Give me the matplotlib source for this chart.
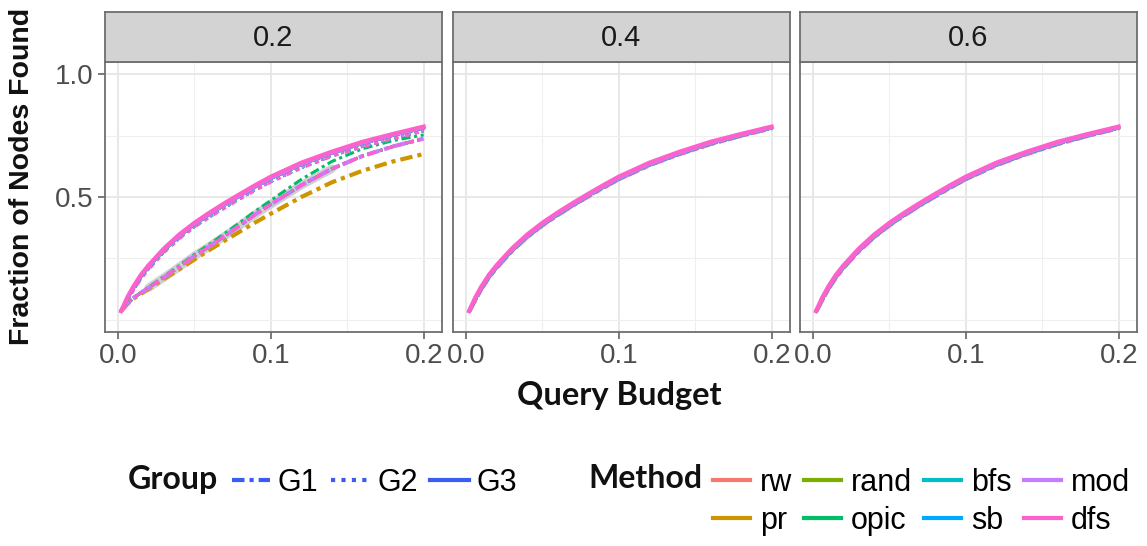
import numpy as np
import matplotlib.pyplot as plt
from matplotlib.lines import Line2D

plt.rcParams['font.family'] = ['Liberation Sans', 'DejaVu Sans']

# data
panels = ['0.2', '0.4', '0.6']
methods = ['rw', 'pr', 'rand', 'opic', 'bfs', 'sb', 'mod', 'dfs']
method_colors = ['#F8766D', '#CD9600', '#7CAE00', '#00BE67',
                 '#00BFC4', '#00A9FF', '#C77CFF', '#FF61CC']
groups = ['G1', 'G2', 'G3']

budget = [0.002, 0.006, 0.01, 0.015, 0.02, 0.03, 0.04, 0.05, 0.06, 0.07,
          0.08, 0.09, 0.10, 0.12, 0.14, 0.16, 0.18, 0.20]

# G3 (solid) curve, dfs on top
found_top = [0.035, 0.09, 0.135, 0.183, 0.222, 0.29, 0.347, 0.395, 0.437, 0.476,
             0.513, 0.549, 0.583, 0.64, 0.685, 0.725, 0.757, 0.787]
# the other methods sit just under it
found_top_other = [0.035, 0.083, 0.127, 0.175, 0.214, 0.282, 0.339, 0.387, 0.429, 0.468,
                   0.505, 0.541, 0.575, 0.632, 0.678, 0.718, 0.751, 0.781]
# G2 (dotted) in panel 0.2
found_p02_g2 = [0.035, 0.08, 0.122, 0.17, 0.208, 0.276, 0.332, 0.38, 0.42, 0.458,
                0.495, 0.53, 0.563, 0.62, 0.668, 0.706, 0.74, 0.77]
# G1 (dot-dash) in panel 0.2
found_p02_g1 = [0.035, 0.065, 0.088, 0.11, 0.13, 0.172, 0.215, 0.26, 0.30, 0.342,
                0.385, 0.43, 0.47, 0.548, 0.615, 0.667, 0.706, 0.738]
found_p02_g1_opic = [0.035, 0.065, 0.088, 0.11, 0.132, 0.176, 0.22, 0.266, 0.308, 0.352,
                     0.397, 0.443, 0.486, 0.572, 0.645, 0.697, 0.73, 0.753]
found_p02_g1_pr = [0.035, 0.063, 0.085, 0.105, 0.125, 0.166, 0.205, 0.245, 0.285, 0.323,
                   0.36, 0.397, 0.432, 0.50, 0.56, 0.607, 0.645, 0.675]
# G1/G2 in panels 0.4 and 0.6
found_p04_low = [0.033, 0.08, 0.125, 0.173, 0.212, 0.28, 0.337, 0.385, 0.427, 0.466,
                 0.503, 0.539, 0.573, 0.63, 0.676, 0.716, 0.75, 0.781]

group_styles = {'G1': (0, (3, 1.2, 1, 1.2)), 'G2': (0, (1, 1.5)), 'G3': '-'}


def series_for(panel, group, method):
    if group == 'G3':
        return found_top if method == 'dfs' else found_top_other
    if panel == '0.2':
        if group == 'G2':
            return found_p02_g2
        if method == 'opic':
            return found_p02_g1_opic
        if method == 'pr':
            return found_p02_g1_pr
        return found_p02_g1
    return found_p04_low


W, H = 1147, 546
fig = plt.figure(figsize=(W / 100, H / 100), dpi=100)

lefts = [105, 453, 800]
pw = 337
top, bot = 62, 332
draw_order = ['rw', 'rand', 'bfs', 'sb', 'dfs', 'pr', 'opic', 'mod']

for i, panel in enumerate(panels):
    ax = fig.add_axes([lefts[i] / W, 1 - bot / H, pw / W, (bot - top) / H])
    sax = fig.add_axes([lefts[i] / W, 1 - top / H, pw / W, 50 / H])

    # grey band under the low curves in panel 0.2
    if panel == '0.2':
        ax.plot(budget[4:15], found_p02_g1[4:15], color='#c8c8c8', lw=6,
                alpha=0.85, solid_capstyle='round', zorder=1)

    for g, z in [('G1', 2), ('G2', 3), ('G3', 4)]:
        order = draw_order if g == 'G1' else methods
        for m in order:
            c = method_colors[methods.index(m)]
            if g == 'G1':
                w = 3.0 if m in ('mod', 'pr') else 2.2
            else:
                w = 3.0 if m == 'dfs' else 2.0
            ax.plot(budget, series_for(panel, g, m), color=c, lw=w,
                    linestyle=group_styles[g], zorder=z + (0.5 if m == 'dfs' else 0))

    ax.set_xlim(-0.0085, 0.212)
    ax.set_ylim(-0.05, 1.05)
    ax.set_xticks([0.0, 0.1, 0.2])
    ax.set_xticklabels(['0.0', '0.1', '0.2'])
    ax.set_xticks([0.05, 0.15], minor=True)
    ax.set_yticks([0.5, 1.0])
    ax.set_yticks([0.0, 0.25, 0.75], minor=True)
    ax.grid(which='major', color='#e6e6e6', lw=1.3, zorder=0)
    ax.grid(which='minor', color='#efefef', lw=0.8, zorder=0)
    ax.set_axisbelow(True)
    ax.tick_params(which='major', length=5, width=1.1, color='#555555',
                   labelsize=20, labelcolor='#4d4d4d', pad=3)
    ax.tick_params(which='minor', length=0)
    if i > 0:
        ax.tick_params(axis='y', which='both', left=False, labelleft=False)
    else:
        ax.set_yticklabels(['0.5', '1.0'])
    for s in ax.spines.values():
        s.set_color('#6e6e6e')
        s.set_linewidth(1.3)

    sax.set_facecolor('#d3d3d3')
    sax.set_xticks([])
    sax.set_yticks([])
    for s in sax.spines.values():
        s.set_color('#6e6e6e')
        s.set_linewidth(1.3)
    sax.text(0.5, 0.48, panel, ha='center', va='center', fontsize=21,
             color='#1a1a1a', transform=sax.transAxes)

fig.text(22 / W, 1 - 176 / H, 'Fraction of Nodes Found', rotation=90,
         ha='center', va='center', fontsize=20.5, fontweight='bold', color='#111111')
fig.text(619 / W, 1 - 396 / H, 'Query Budget', ha='center', va='center',
         fontsize=23.5, fontweight='bold', family=['Lato', 'DejaVu Sans'], color='#111111')

# legends
fig.text(128 / W, 1 - 479 / H, 'Group', ha='left', va='center', fontsize=23,
         fontweight='bold', family=['Lato', 'DejaVu Sans'], color='#111111')
g_handles = [Line2D([], [], color='#3B5BF5', lw=3, linestyle=group_styles[g]) for g in groups]
fig.legend(g_handles, groups, loc='center left', bbox_to_anchor=(232 / W, 1 - 483 / H),
           ncol=3, frameon=False, fontsize=22, handlelength=1.25, handletextpad=0.25,
           columnspacing=0.42, borderpad=0, borderaxespad=0)

fig.text(588 / W, 1 - 479 / H, 'Method', ha='left', va='center', fontsize=23,
         fontweight='bold', family=['Lato', 'DejaVu Sans'], color='#111111')
m_handles = [Line2D([], [], color=c, lw=3) for c in method_colors]
fig.legend(m_handles, methods, loc='center left', bbox_to_anchor=(713 / W, 1 - 502 / H),
           ncol=4, frameon=False, fontsize=22, handlelength=1.2, handletextpad=0.33,
           columnspacing=0.4, labelspacing=0.25, borderpad=0, borderaxespad=0)

fig.savefig('out.png', dpi=100)
